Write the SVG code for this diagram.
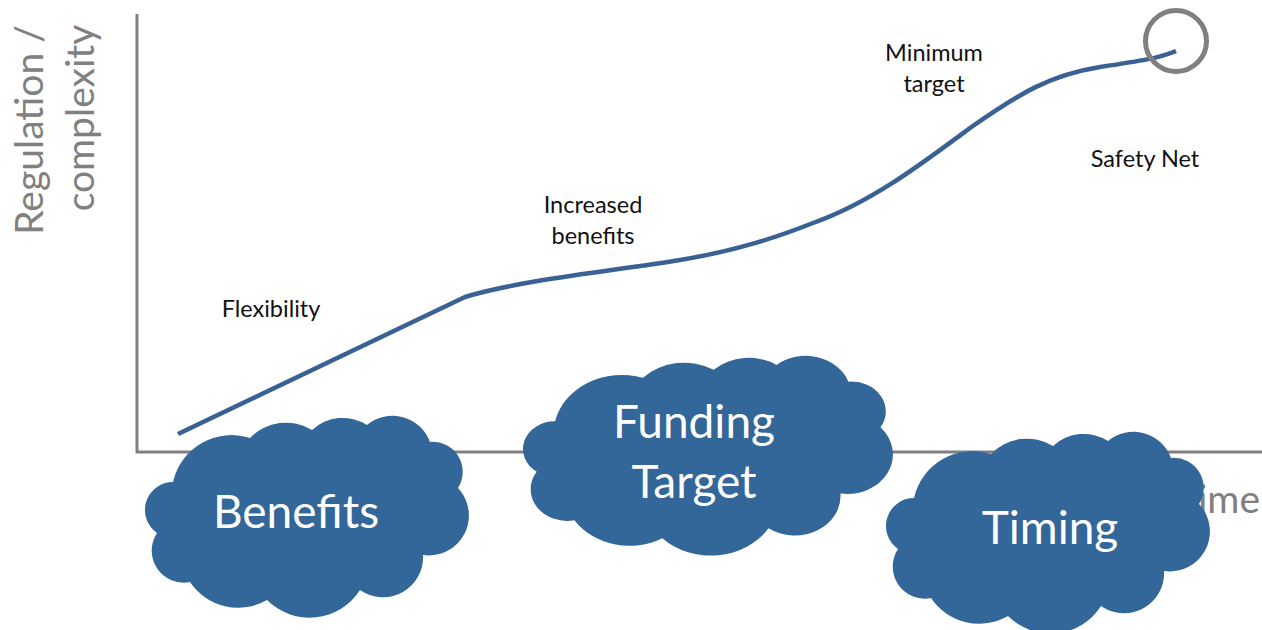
<svg xmlns="http://www.w3.org/2000/svg" xmlns:xlink="http://www.w3.org/1999/xlink" width="1262" height="630" viewBox="0 0 1262 630">
<style>
.axis{stroke:#808080;stroke-width:3;fill:none}
.curve{stroke:#3A6194;stroke-width:4.5;fill:none;stroke-linecap:butt;stroke-linejoin:round}
.lbl{font-family:Lato,"Open Sans",sans-serif;font-size:23.5px;fill:#111;text-anchor:middle}
.axl{font-family:Lato,"Open Sans",sans-serif;font-size:39px;fill:#808080;text-anchor:middle}
.cl{fill:#336699}
.ct{font-family:Lato,"Open Sans",sans-serif;font-size:46px;fill:#fff;text-anchor:middle}
</style>
<defs>
<path id="cloud" d="M28,65 A60,60 0 0 1 105,21 A50,50 0 0 1 167,13 A45,45 0 0 1 222,8 A40,40 0 0 1 285,25 A30,30 0 0 1 313,71 A40,40 0 0 1 278,138 A40,40 0 0 1 215,173 A60,60 0 0 1 122,183 A58,58 0 0 1 45,165 A32,32 0 0 1 12,116 A28,28 0 0 1 28,65 Z"/>
</defs>
<g id="axes">
<polyline class="axis" points="137,14 137,452 1262,452"/>
<text class="axl" transform="translate(43,130) rotate(-90)">Regulation /</text>
<text class="axl" transform="translate(94,118) rotate(-90)">complexity</text>
<text class="axl" x="1260" y="513" style="text-anchor:end">Time</text>
</g>
<g id="connectors">
<path class="curve" d="M178,434 L465,297 C520,280 620,270 680,260 C740,250 780,236 813,223 C870,203 920,165 970,128 C1020,93 1050,75 1100,67 C1140,61 1160,58 1176,51"/>
<circle cx="1176" cy="41" r="30.5" fill="none" stroke="#808080" stroke-width="5"/>
</g>
<g id="label-flexibility"><text class="lbl" x="271" y="317">Flexibility</text></g>
<g id="label-increased"><text class="lbl" x="593" y="213">Increased</text><text class="lbl" x="593" y="244">benefits</text></g>
<g id="label-minimum"><text class="lbl" x="934" y="61">Minimum</text><text class="lbl" x="934" y="92">target</text></g>
<g id="label-safety"><text class="lbl" x="1145" y="167">Safety Net</text></g>
<g id="cloud-benefits">
<use xlink:href="#cloud" class="cl" transform="translate(145,417)"/>
<text class="ct" x="296" y="528">Benefits</text>
</g>
<g id="cloud-funding">
<use xlink:href="#cloud" class="cl" transform="translate(523,357) scale(1.142,0.99)"/>
<text class="ct" x="694" y="438">Funding</text>
<text class="ct" x="694" y="498">Target</text>
</g>
<g id="cloud-timing">
<use xlink:href="#cloud" class="cl" transform="translate(886,433)"/>
<text class="ct" x="1050" y="544">Timing</text>
</g>
</svg>
